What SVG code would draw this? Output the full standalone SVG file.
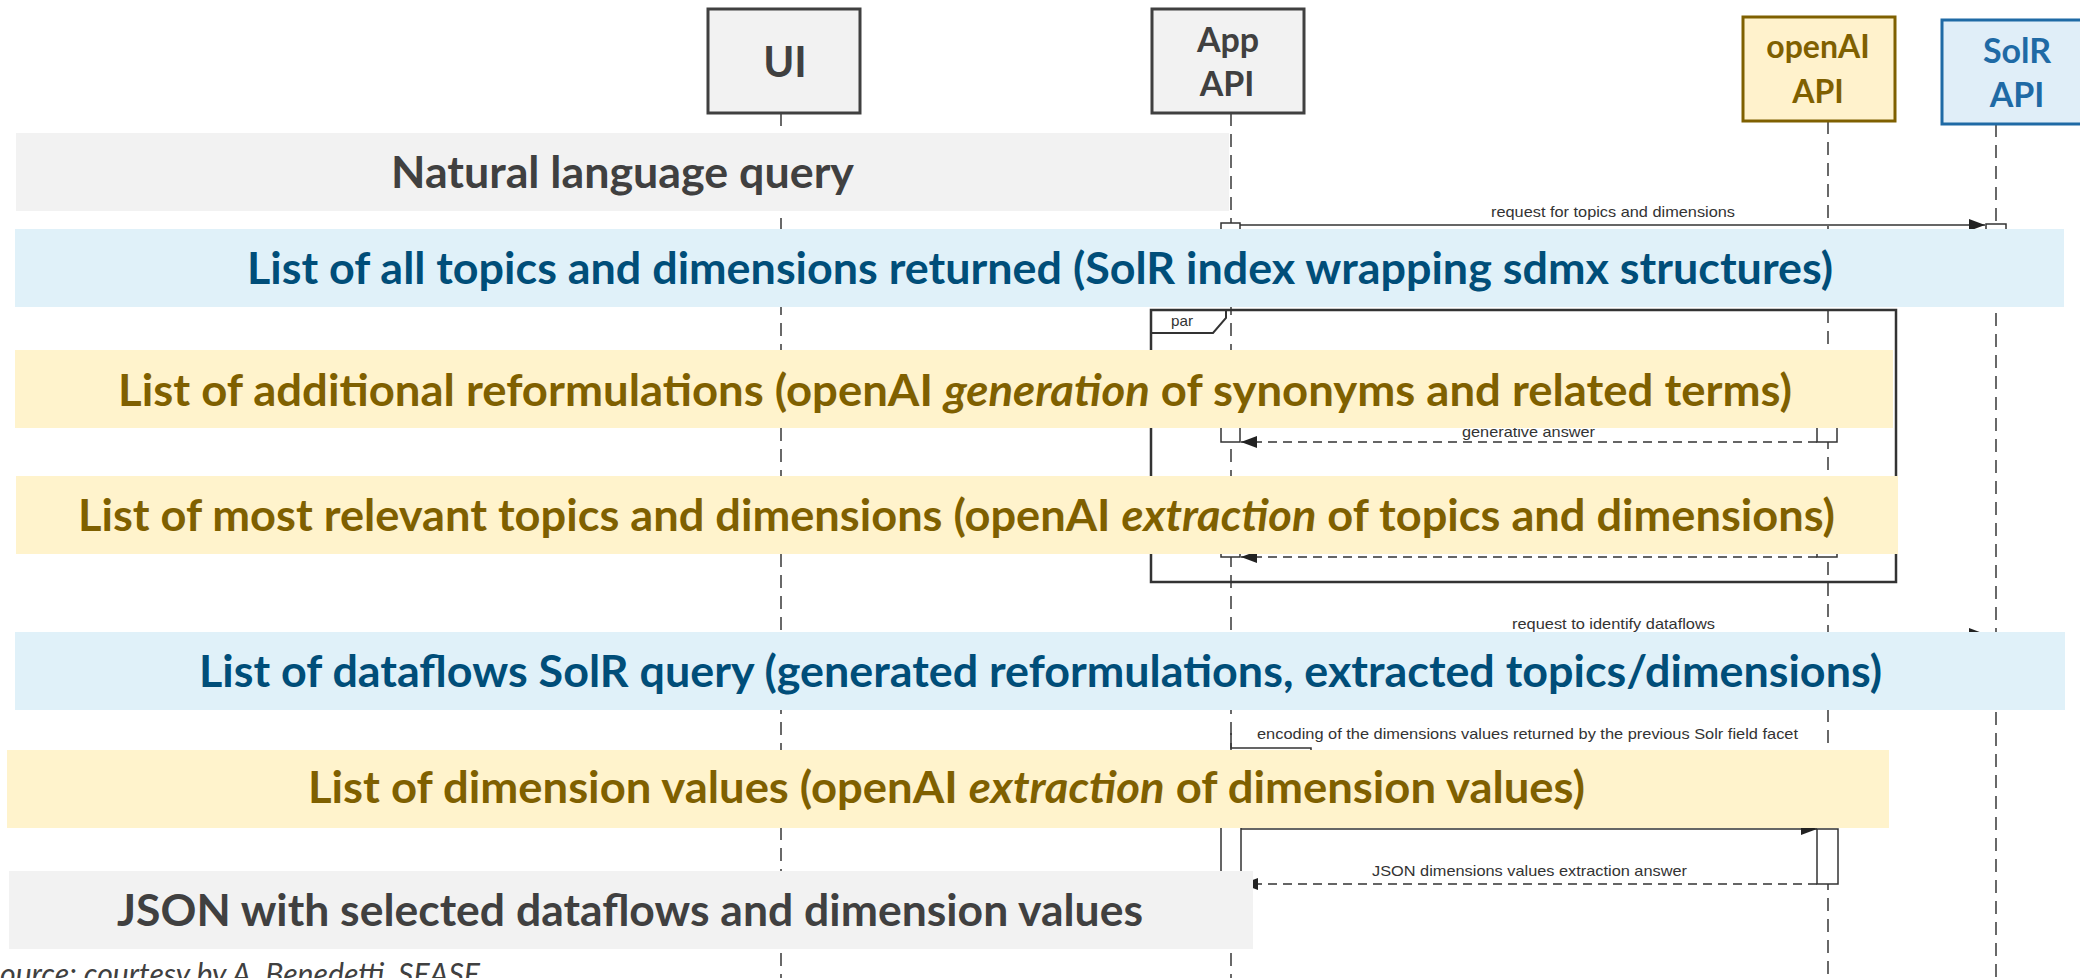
<svg xmlns="http://www.w3.org/2000/svg" width="2080" height="978" viewBox="0 0 2080 978">
<defs>
<marker id="arr" viewBox="0 0 16 12" refX="16" refY="6" markerWidth="16" markerHeight="12" markerUnits="userSpaceOnUse" orient="auto"><path d="M0,0 L16,6 L0,12 z" fill="#222"/></marker>
</defs>
<style>
.hd{font-family:Lato,"Liberation Sans",sans-serif;font-weight:700;text-anchor:middle}
.bt{font-family:Lato,"Liberation Sans",sans-serif;font-weight:700;font-size:44px}
.it{font-style:italic}
.msg{font-family:"Liberation Sans",Arial,sans-serif;font-size:15px;fill:#333}
.life{stroke:#444;stroke-width:1.6;stroke-dasharray:13 8;fill:none}
.act{fill:#fff;stroke:#333;stroke-width:1.5}
.solid{stroke:#333;stroke-width:1.5;fill:none}
.dash{stroke:#333;stroke-width:1.5;stroke-dasharray:9 6;fill:none}
.gray{fill:#f2f2f2}
.blue{fill:#e0f1f9}
.yel{fill:#fff3cc}
.tg{fill:#404040}
.tb{fill:#004e79}
.ty{fill:#7f6000}
</style>

<g id="connectors">
  <line class="life" x1="781" y1="113" x2="781" y2="978"/>
  <line class="life" x1="1231" y1="113" x2="1231" y2="978"/>
  <line class="life" x1="1828" y1="121" x2="1828" y2="978"/>
  <line class="life" x1="1996" y1="124" x2="1996" y2="978"/>

  <g id="par-frame">
    <rect x="1151" y="310" width="745" height="272" fill="none" stroke="#333" stroke-width="2.5"/>
    <path d="M1151,310 H1226 V318 L1213,333 H1151" fill="none" stroke="#333" stroke-width="2"/>
    <text class="msg" x="1171" y="326" font-size="13" textLength="22" lengthAdjust="spacingAndGlyphs">par</text>
  </g>

  <rect class="act" x="1221" y="223" width="19" height="80"/>
  <rect class="act" x="1986" y="224" width="20" height="80"/>
  <line class="solid" x1="1240" y1="225" x2="1985" y2="225" marker-end="url(#arr)"/>
  <text class="msg" x="1491" y="217" textLength="244" lengthAdjust="spacingAndGlyphs">request for topics and dimensions</text>

  <rect class="act" x="1221" y="360" width="19" height="82"/>
  <rect class="act" x="1817" y="360" width="20" height="82"/>
  <line class="dash" x1="1817" y1="442" x2="1241" y2="442" marker-end="url(#arr)"/>
  <text class="msg" x="1462" y="437" textLength="133" lengthAdjust="spacingAndGlyphs">generative answer</text>

  <rect class="act" x="1221" y="490" width="19" height="67"/>
  <rect class="act" x="1817" y="490" width="20" height="67"/>
  <line class="dash" x1="1817" y1="557" x2="1241" y2="557" stroke="#888" marker-end="url(#arr)"/>

  <line class="solid" x1="1231" y1="634" x2="1985" y2="634" marker-end="url(#arr)"/>
  <text class="msg" x="1512" y="629" textLength="203" lengthAdjust="spacingAndGlyphs">request to identify dataflows</text>

  <path class="solid" d="M1231,733 V748 H1311 V765"/>
  <text class="msg" x="1257" y="739" textLength="541" lengthAdjust="spacingAndGlyphs">encoding of the dimensions values returned by the previous Solr field facet</text>

  <rect class="act" x="1221" y="760" width="20" height="132"/>
  <rect class="act" x="1817" y="829" width="21" height="55"/>
  <line class="solid" x1="1241" y1="829" x2="1817" y2="829" marker-end="url(#arr)"/>
  <line class="dash" x1="1817" y1="884" x2="1242" y2="884" marker-end="url(#arr)"/>
  <text class="msg" x="1372" y="876" textLength="315" lengthAdjust="spacingAndGlyphs">JSON dimensions values extraction answer</text>
</g>

<g id="band-natural-query">
  <rect class="gray" x="16" y="133" width="1213" height="78"/>
  <text class="bt tg" x="391" y="188" textLength="463" lengthAdjust="spacingAndGlyphs">Natural language query</text>
</g>
<g id="band-all-topics">
  <rect class="blue" x="15" y="229" width="2049" height="78"/>
  <text class="bt tb" x="247" y="284" textLength="1586" lengthAdjust="spacingAndGlyphs">List of all topics and dimensions returned (SolR index wrapping sdmx structures)</text>
</g>
<g id="band-reformulations">
  <rect class="yel" x="15" y="350" width="1878" height="78"/>
  <text class="bt ty" x="118" y="406" textLength="1674" lengthAdjust="spacingAndGlyphs">List of additional reformulations (openAI <tspan class="it">generation</tspan> of synonyms and related terms)</text>
</g>
<g id="band-relevant-topics">
  <rect class="yel" x="16" y="476" width="1882" height="78"/>
  <text class="bt ty" x="78" y="531" textLength="1757" lengthAdjust="spacingAndGlyphs">List of most relevant topics and dimensions (openAI <tspan class="it">extraction</tspan> of topics and dimensions)</text>
</g>
<g id="band-dataflows">
  <rect class="blue" x="15" y="632" width="2050" height="78"/>
  <text class="bt tb" x="199" y="687" textLength="1683" lengthAdjust="spacingAndGlyphs">List of dataflows SolR query (generated reformulations, extracted topics/dimensions)</text>
</g>
<g id="band-dimension-values">
  <rect class="yel" x="7" y="750" width="1882" height="78"/>
  <text class="bt ty" x="308" y="803" textLength="1277" lengthAdjust="spacingAndGlyphs">List of dimension values (openAI <tspan class="it">extraction</tspan> of dimension values)</text>
</g>
<g id="band-json">
  <rect class="gray" x="9" y="871" width="1244" height="78"/>
  <text class="bt tg" x="117" y="926" textLength="1026" lengthAdjust="spacingAndGlyphs">JSON with selected dataflows and dimension values</text>
</g>

<g id="node-ui">
  <rect x="708" y="9" width="152" height="104" fill="#f2f2f2" stroke="#404040" stroke-width="3"/>
  <text class="hd tg" x="785" y="77" font-size="42">UI</text>
</g>
<g id="node-app-api">
  <rect x="1152" y="9" width="152" height="104" fill="#f2f2f2" stroke="#404040" stroke-width="3"/>
  <text class="hd tg" x="1228" y="52" font-size="34">App</text>
  <text class="hd tg" x="1227" y="96" font-size="34">API</text>
</g>
<g id="node-openai-api">
  <rect x="1743" y="17" width="152" height="104" fill="#fff2cc" stroke="#7f6000" stroke-width="3"/>
  <text class="hd ty" x="1818" y="58" font-size="32">openAI</text>
  <text class="hd ty" x="1818" y="103" font-size="32">API</text>
</g>
<g id="node-solr-api">
  <rect x="1942" y="20" width="152" height="104" fill="#e0eef8" stroke="#1f6aa5" stroke-width="3"/>
  <text class="hd" x="2017" y="63" font-size="34" fill="#1f6aa5">SolR</text>
  <text class="hd" x="2017" y="107" font-size="34" fill="#1f6aa5">API</text>
</g>

<text x="0" y="985" font-family="Lato,'Liberation Sans',sans-serif" font-style="italic" font-size="30" fill="#404040" textLength="480" lengthAdjust="spacingAndGlyphs">ource: courtesy by A. Benedetti, SEASE</text>
</svg>
